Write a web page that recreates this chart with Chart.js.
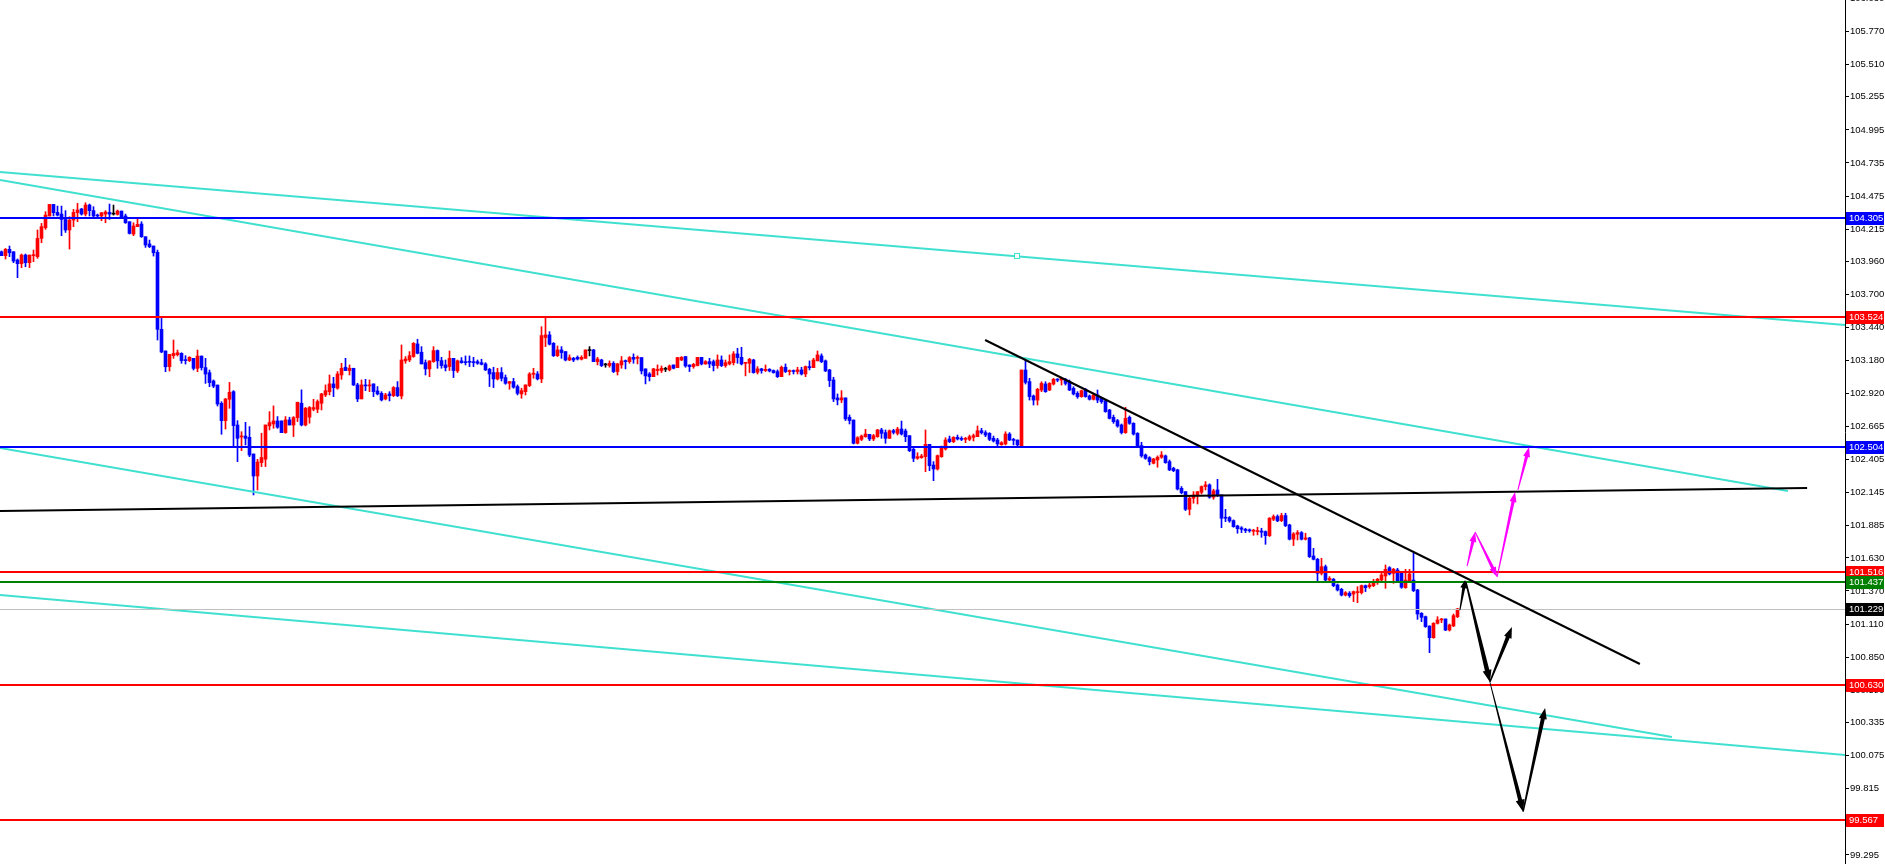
<!DOCTYPE html>
<html><head><meta charset="utf-8">
<script src="https://cdn.jsdelivr.net/npm/chart.js@4.4.1/dist/chart.umd.min.js"></script>
<style>html,body{margin:0;padding:0;background:#fff;overflow:hidden}#wrap{width:1885px;height:864px;position:relative}</style>
</head><body><div id="wrap"><canvas id="c" width="1885" height="864"></canvas></div>
<script>
const opens=[
104.037,104.006,104.056,104.037,103.972,103.943,104.011,103.951,104.006,103.998,
104.142,104.226,104.318,104.409,104.346,104.333,104.291,104.208,104.286,104.344,
104.373,104.333,104.404,104.360,104.325,104.318,104.333,104.346,104.333,104.331,
104.357,104.318,104.273,104.176,104.234,104.255,104.155,104.098,104.082,104.032,
103.427,103.257,103.133,103.220,103.228,103.238,103.186,103.181,103.199,103.120,
103.217,103.126,103.086,103.021,102.989,102.845,102.709,102.877,102.937,102.675,
102.581,102.588,102.578,102.447,102.274,102.379,102.406,102.668,102.683,102.707,
102.707,102.615,102.715,102.675,102.733,102.846,102.675,102.736,102.799,102.799,
102.846,102.911,102.937,102.998,102.964,103.068,103.129,103.103,103.121,102.990,
102.880,102.990,102.982,102.998,102.943,102.924,102.880,102.919,102.906,102.969,
102.903,103.179,103.186,103.213,103.312,103.247,103.165,103.116,103.173,103.260,
103.181,103.147,103.134,103.199,103.100,103.179,103.173,103.173,103.173,103.173,
103.165,103.155,103.113,103.087,103.037,103.087,103.048,103.003,103.016,102.977,
102.919,102.937,102.985,103.074,103.076,103.037,103.362,103.383,103.317,103.220,
103.265,103.252,103.186,103.199,103.207,103.192,103.199,103.260,103.265,103.173,
103.186,103.147,103.142,103.160,103.095,103.147,103.181,103.173,103.207,103.199,
103.205,103.116,103.076,103.055,103.103,103.103,103.113,103.108,103.147,103.126,
103.186,103.213,103.147,103.134,103.142,103.207,103.155,103.173,103.173,103.142,
103.186,103.142,103.155,103.165,103.234,103.207,103.160,103.160,103.186,103.090,
103.116,103.103,103.113,103.103,103.095,103.055,103.129,103.095,103.103,103.095,
103.108,103.076,103.134,103.126,103.179,103.218,103.179,103.108,103.029,102.888,
102.872,102.888,102.736,102.714,102.531,102.562,102.583,102.601,102.565,102.583,
102.636,102.615,102.570,102.630,102.609,102.643,102.628,102.591,102.484,102.413,
102.418,102.426,102.523,102.360,102.329,102.426,102.486,102.565,102.544,102.578,
102.570,102.562,102.562,102.578,102.583,102.630,102.615,102.609,102.570,102.557,
102.520,102.526,102.604,102.557,102.557,102.512,103.107,103.016,102.903,102.871,
102.950,102.997,102.950,102.997,103.031,103.028,103.034,103.015,102.963,102.924,
102.898,102.955,102.903,102.877,102.911,102.885,102.866,102.793,102.735,102.709,
102.675,102.615,102.735,102.688,102.609,102.513,102.439,102.418,102.374,102.400,
102.421,102.432,102.387,102.335,102.322,102.177,102.151,102.012,102.099,102.125,
102.146,102.191,102.204,102.107,102.164,102.125,101.947,101.947,101.923,101.881,
101.866,101.855,101.845,101.840,101.837,101.842,101.837,101.805,101.934,101.955,
101.923,101.963,101.889,101.777,101.816,101.829,101.777,101.787,101.645,101.619,
101.509,101.561,101.456,101.462,101.417,101.383,101.338,101.352,101.346,101.357,
101.357,101.412,101.404,101.412,101.436,101.456,101.488,101.553,101.509,101.535,
101.509,101.396,101.451,101.456,101.378,101.194,101.168,101.095,101.003,101.116,
101.142,101.150,101.063,101.095,101.168];
const highs=[
104.043,104.063,104.082,104.037,103.980,104.019,104.019,104.011,104.050,104.208,
104.260,104.352,104.409,104.409,104.396,104.396,104.360,104.312,104.370,104.417,
104.378,104.422,104.412,104.391,104.333,104.344,104.360,104.412,104.404,104.365,
104.357,104.333,104.273,104.265,104.305,104.273,104.155,104.129,104.082,104.050,
103.513,103.257,103.230,103.343,103.264,103.243,103.220,103.212,103.199,103.264,
103.217,103.199,103.107,103.029,102.989,102.858,102.884,103.010,102.945,102.709,
102.622,102.696,102.662,102.447,102.405,102.610,102.675,102.780,102.825,102.741,
102.707,102.741,102.736,102.741,102.854,102.951,102.814,102.820,102.877,102.872,
102.924,102.990,103.068,103.050,103.095,103.160,103.199,103.147,103.121,103.003,
103.029,103.034,103.029,102.998,102.977,102.937,102.924,102.937,102.977,103.016,
103.304,103.213,103.252,103.323,103.349,103.291,103.186,103.179,103.291,103.265,
103.207,103.186,103.257,103.199,103.186,103.205,103.218,103.218,103.207,103.186,
103.192,103.165,103.121,103.129,103.121,103.126,103.068,103.016,103.042,102.990,
102.964,102.990,103.087,103.121,103.095,103.448,103.527,103.409,103.323,103.296,
103.291,103.252,103.226,103.207,103.218,103.220,103.265,103.291,103.270,103.207,
103.192,103.160,103.179,103.173,103.160,103.213,103.186,103.213,103.234,103.218,
103.205,103.116,103.087,103.121,103.147,103.139,103.129,103.147,103.147,103.207,
103.213,103.213,103.147,103.160,103.207,103.207,103.181,103.199,103.186,103.226,
103.218,103.186,103.226,103.252,103.278,103.286,103.165,103.199,103.192,103.134,
103.121,103.147,103.118,103.108,103.108,103.139,103.155,103.108,103.108,103.129,
103.129,103.139,103.179,103.199,103.257,103.234,103.186,103.113,103.050,102.919,
102.945,102.888,102.754,102.714,102.583,102.596,102.641,102.601,102.601,102.641,
102.649,102.636,102.636,102.641,102.657,102.706,102.643,102.591,102.492,102.457,
102.444,102.636,102.523,102.387,102.439,102.510,102.575,102.588,102.583,102.596,
102.583,102.578,102.596,102.604,102.667,102.649,102.630,102.615,102.588,102.570,
102.544,102.622,102.615,102.570,102.557,103.107,103.186,103.042,102.911,102.963,
103.015,103.015,103.008,103.042,103.039,103.050,103.042,103.029,102.976,102.937,
102.950,102.963,102.911,102.924,102.950,102.893,102.871,102.798,102.753,102.719,
102.683,102.814,102.746,102.693,102.615,102.539,102.447,102.426,102.413,102.432,
102.466,102.439,102.400,102.343,102.327,102.191,102.151,102.112,102.151,102.151,
102.196,102.230,102.212,102.170,102.248,102.125,102.012,101.955,101.929,101.887,
101.876,101.863,101.858,101.855,101.871,101.863,101.842,101.947,101.968,101.968,
101.981,101.981,101.895,101.829,101.845,101.837,101.824,101.792,101.705,101.627,
101.627,101.574,101.483,101.469,101.425,101.391,101.365,101.365,101.370,101.404,
101.417,101.417,101.430,101.462,101.469,101.509,101.574,101.561,101.548,101.548,
101.522,101.540,101.540,101.666,101.383,101.200,101.173,101.095,101.121,101.168,
101.155,101.150,101.110,101.189,101.234];
const lows=[
104.006,103.980,103.998,103.951,103.833,103.912,103.919,103.912,103.959,103.985,
104.108,104.213,104.318,104.318,104.318,104.163,104.189,104.058,104.234,104.273,
104.325,104.318,104.318,104.312,104.312,104.281,104.265,104.291,104.325,104.325,
104.299,104.260,104.176,104.163,104.234,104.150,104.071,104.069,104.003,103.343,
103.243,103.094,103.099,103.199,103.217,103.160,103.154,103.173,103.107,103.094,
103.107,103.002,102.976,102.968,102.824,102.602,102.643,102.806,102.497,102.387,
102.473,102.518,102.426,102.125,102.164,102.348,102.348,102.636,102.649,102.649,
102.615,102.610,102.675,102.584,102.702,102.668,102.668,102.689,102.786,102.772,
102.793,102.898,102.911,102.898,102.956,103.034,103.103,103.068,102.985,102.859,
102.880,102.945,102.937,102.898,102.911,102.864,102.872,102.864,102.898,102.898,
102.880,103.160,103.173,103.207,103.234,103.155,103.068,103.055,103.168,103.121,
103.121,103.100,103.103,103.048,103.087,103.160,103.147,103.134,103.134,103.152,
103.147,103.103,102.977,102.969,103.029,103.021,102.995,102.956,102.964,102.911,
102.885,102.911,102.977,103.042,103.029,103.008,103.291,103.304,103.213,103.213,
103.199,103.179,103.181,103.173,103.186,103.186,103.199,103.218,103.173,103.147,
103.134,103.129,103.129,103.087,103.068,103.121,103.116,103.160,103.160,103.155,
103.076,102.998,103.021,103.055,103.068,103.087,103.095,103.100,103.116,103.126,
103.181,103.129,103.095,103.121,103.139,103.147,103.152,103.126,103.100,103.121,
103.134,103.129,103.147,103.147,103.160,103.147,103.061,103.087,103.082,103.076,
103.082,103.095,103.092,103.082,103.048,103.055,103.087,103.068,103.076,103.076,
103.068,103.055,103.108,103.126,103.179,103.165,103.095,102.977,102.859,102.833,
102.851,102.710,102.683,102.526,102.526,102.552,102.578,102.552,102.552,102.578,
102.570,102.531,102.570,102.604,102.596,102.596,102.544,102.465,102.387,102.405,
102.413,102.308,102.316,102.237,102.321,102.421,102.478,102.536,102.536,102.557,
102.552,102.536,102.552,102.549,102.583,102.604,102.583,102.552,102.541,102.510,
102.515,102.518,102.552,102.518,102.510,102.512,102.997,102.871,102.832,102.832,
102.937,102.932,102.945,102.989,103.015,102.989,102.989,102.945,102.911,102.885,
102.893,102.893,102.871,102.871,102.850,102.845,102.775,102.722,102.688,102.657,
102.604,102.609,102.680,102.596,102.505,102.421,102.405,102.361,102.369,102.343,
102.413,102.374,102.316,102.308,102.164,102.133,102.002,101.968,102.060,102.054,
102.133,102.164,102.099,102.091,102.112,101.868,101.915,101.910,101.871,101.824,
101.829,101.829,101.832,101.808,101.811,101.792,101.737,101.798,101.923,101.915,
101.915,101.876,101.771,101.727,101.771,101.771,101.771,101.633,101.614,101.443,
101.496,101.443,101.443,101.404,101.370,101.331,101.331,101.320,101.286,101.278,
101.346,101.365,101.391,101.404,101.422,101.449,101.391,101.496,101.430,101.443,
101.391,101.391,101.443,101.365,101.147,101.129,101.084,100.885,100.998,101.110,
101.121,101.058,101.055,101.090,101.160];
const closes=[
104.006,104.056,104.029,103.964,103.943,104.011,103.951,104.011,104.011,104.142,
104.234,104.325,104.409,104.344,104.325,104.291,104.208,104.286,104.346,104.365,
104.333,104.404,104.360,104.318,104.318,104.344,104.349,104.333,104.333,104.357,
104.312,104.265,104.181,104.239,104.252,104.155,104.090,104.077,104.029,103.427,
103.249,103.133,103.230,103.238,103.243,103.181,103.181,103.207,103.120,103.217,
103.126,103.076,103.008,102.981,102.840,102.709,102.879,102.932,102.670,102.570,
102.588,102.570,102.439,102.274,102.384,102.419,102.675,102.694,102.707,102.657,
102.615,102.715,102.675,102.733,102.854,102.675,102.806,102.812,102.812,102.859,
102.919,102.945,102.998,102.969,103.076,103.121,103.103,103.121,102.990,102.880,
102.990,102.982,102.990,102.937,102.919,102.872,102.911,102.906,102.969,102.906,
103.186,103.194,103.220,103.317,103.239,103.155,103.116,103.179,103.260,103.179,
103.142,103.126,103.199,103.103,103.179,103.165,103.165,103.168,103.165,103.160,
103.152,103.108,103.076,103.037,103.087,103.042,103.003,103.016,102.972,102.924,
102.945,102.990,103.076,103.082,103.037,103.378,103.383,103.310,103.220,103.265,
103.244,103.186,103.205,103.186,103.194,103.207,103.265,103.260,103.173,103.194,
103.142,103.147,103.160,103.095,103.155,103.179,103.173,103.205,103.192,103.207,
103.100,103.061,103.055,103.116,103.113,103.121,103.113,103.139,103.121,103.205,
103.207,103.139,103.134,103.152,103.207,103.155,103.173,103.155,103.142,103.186,
103.142,103.165,103.173,103.234,103.205,103.155,103.165,103.192,103.087,103.116,
103.103,103.113,103.100,103.087,103.055,103.129,103.095,103.103,103.095,103.108,
103.076,103.134,103.126,103.186,103.226,103.173,103.100,103.024,102.880,102.872,
102.888,102.723,102.710,102.531,102.575,102.588,102.604,102.565,102.591,102.636,
102.609,102.570,102.630,102.617,102.643,102.604,102.583,102.473,102.413,102.426,
102.431,102.523,102.355,102.329,102.434,102.497,102.557,102.544,102.578,102.565,
102.562,102.570,102.583,102.591,102.630,102.615,102.596,102.562,102.549,102.526,
102.536,102.604,102.557,102.554,102.518,103.107,103.010,102.898,102.871,102.955,
103.002,102.937,103.002,103.034,103.028,103.042,103.002,102.950,102.919,102.898,
102.945,102.898,102.877,102.911,102.871,102.858,102.780,102.727,102.701,102.667,
102.615,102.727,102.688,102.604,102.512,102.432,102.413,102.387,102.408,102.421,
102.439,102.379,102.322,102.316,102.172,102.143,102.012,102.099,102.125,102.151,
102.191,102.204,102.107,102.157,102.125,101.942,101.942,101.921,101.876,101.860,
101.855,101.845,101.843,101.845,101.845,101.832,101.805,101.942,101.955,101.921,
101.963,101.884,101.777,101.819,101.829,101.777,101.787,101.640,101.619,101.509,
101.561,101.456,101.469,101.412,101.378,101.338,101.357,101.333,101.365,101.365,
101.412,101.396,101.417,101.443,101.462,101.496,101.540,101.504,101.540,101.451,
101.399,101.456,101.504,101.373,101.189,101.163,101.090,101.003,101.116,101.142,
101.150,101.063,101.103,101.176,101.229];

const tickValues=[105.770,105.510,105.255,104.995,104.735,104.475,104.215,103.960,103.700,103.440,103.180,102.920,102.665,102.405,102.145,101.885,101.630,101.370,101.110,100.850,100.590,100.335,100.075,99.815,99.295];
const cutTopTick=106.030;
const levelPrices=[104.305,103.524,102.504,101.516,101.437,101.229,100.630,99.567];
const levelColors=['#0000ff','#ff0000','#0000ff','#ff0000','#008000','#c0c0c0','#ff0000','#ff0000'];
const labelBoxColors=['#0000ff','#ff0000','#0000ff','#ff0000','#008000','#000000','#ff0000','#ff0000'];
// trend lines: [bar index start, price start, bar index end, price end]
const turquoiseLines=[
 [-0.375,104.664,460.875,103.461],
 [-0.375,104.601,446.6,102.156],
 [-0.375,102.494,417.6,100.222],
 [-0.375,101.338,460.875,100.080]
];
const blackLines=[
 [-0.375,101.999,451.4,102.180],
 [245.9,103.343,409.6,100.796]
];
const markerPoint=[253.9,104.003];
const blackArrows=[
 [364.6,101.220,365.9,101.456],
 [366.1,101.441,372.1,100.654],
 [372.1,100.654,377.6,101.087],
 [372.1,100.654,380.4,99.635],
 [380.4,99.635,385.9,100.450]
];
const magentaArrows=[
 [366.4,101.566,368.4,101.834],
 [368.4,101.834,373.9,101.480],
 [373.9,101.480,378.4,102.148],
 [379.1,102.164,381.9,102.502]
];

const xMin=-0.375, xMax=460.875, yMin=99.2236, yMax=106.0161;
const FAMILY='"Liberation Sans", Arial, sans-serif';
const FONT='9.5px '+FAMILY;

const idx=opens.map((_,i)=>i);
const colorOf=i=>closes[i]>opens[i]?'#ff0000':(closes[i]<opens[i]?'#0000ff':'#000000');
const colors=idx.map(colorOf);
const wickData=idx.map(i=>({x:i,y:[Math.min(lows[i],opens[i],closes[i]),Math.max(highs[i],opens[i],closes[i])]}));
const bodyData=idx.map(i=>({x:i,y:[Math.min(opens[i],closes[i]),Math.max(opens[i],closes[i])]}));

function taperArrow(ctx,x1,y1,x2,y2,w0,w1,hl,hw,color){
  const dx=x2-x1, dy=y2-y1, len=Math.hypot(dx,dy);
  const ux=dx/len, uy=dy/len, nx=-uy, ny=ux;
  const bx=x2-ux*hl, by=y2-uy*hl;
  ctx.beginPath();
  ctx.moveTo(x1+nx*w0/2,y1+ny*w0/2);
  ctx.lineTo(bx+nx*w1/2,by+ny*w1/2);
  ctx.lineTo(bx+nx*hw/2,by+ny*hw/2);
  ctx.lineTo(x2,y2);
  ctx.lineTo(bx-nx*hw/2,by-ny*hw/2);
  ctx.lineTo(bx-nx*w1/2,by-ny*w1/2);
  ctx.lineTo(x1-nx*w0/2,y1-ny*w0/2);
  ctx.closePath();
  ctx.fillStyle=color; ctx.fill();
}

const overlay={
  id:'overlay',
  afterDatasetsDraw(chart){
    const {ctx,chartArea:a,scales:{x,y}}=chart;
    ctx.save();
    ctx.beginPath(); ctx.rect(a.left,a.top,a.right-a.left,a.bottom-a.top); ctx.clip();
    ctx.strokeStyle='#40e0d0'; ctx.lineWidth=2;
    turquoiseLines.forEach(l=>{ctx.beginPath();ctx.moveTo(x.getPixelForValue(l[0]),y.getPixelForValue(l[1]));ctx.lineTo(x.getPixelForValue(l[2]),y.getPixelForValue(l[3]));ctx.stroke();});
    const mx=Math.round(x.getPixelForValue(markerPoint[0])), my=Math.round(y.getPixelForValue(markerPoint[1]));
    ctx.lineWidth=1; ctx.fillStyle='#fff'; ctx.fillRect(mx-2,my-2,4,4); ctx.strokeRect(mx-2.5,my-2.5,5,5);
    levelPrices.forEach((p,k)=>{
      const py=Math.round(y.getPixelForValue(p));
      ctx.strokeStyle=levelColors[k];
      if(levelColors[k]==='#c0c0c0'){ctx.lineWidth=1;ctx.beginPath();ctx.moveTo(a.left,py+0.5);ctx.lineTo(a.right,py+0.5);ctx.stroke();}
      else{ctx.lineWidth=2;ctx.beginPath();ctx.moveTo(a.left,py);ctx.lineTo(a.right,py);ctx.stroke();}
    });
    ctx.strokeStyle='#000'; ctx.lineWidth=2;
    blackLines.forEach(l=>{ctx.beginPath();ctx.moveTo(x.getPixelForValue(l[0]),y.getPixelForValue(l[1]));ctx.lineTo(x.getPixelForValue(l[2]),y.getPixelForValue(l[3]));ctx.stroke();});
    const bStyle=[[1,3,8,7],[1.5,4.5,12,9],[1.5,4,11,8],[0.8,4,12,9],[1.5,4,11,8]];
    blackArrows.forEach((r,k)=>{const s=bStyle[k];taperArrow(ctx,x.getPixelForValue(r[0]),y.getPixelForValue(r[1]),x.getPixelForValue(r[2]),y.getPixelForValue(r[3]),s[0],s[1],s[2],s[3],'#000');});
    magentaArrows.forEach(r=>{taperArrow(ctx,x.getPixelForValue(r[0]),y.getPixelForValue(r[1]),x.getPixelForValue(r[2]),y.getPixelForValue(r[3]),1,3.2,10,7,'#ff00ff');});
    ctx.restore();
  },
  afterDraw(chart){
    const {ctx,chartArea:a,scales:{y}}=chart;
    ctx.save();
    ctx.font=FONT; ctx.textBaseline='middle'; ctx.textAlign='left';
    const ty=y.getPixelForValue(cutTopTick);
    ctx.fillStyle='#000'; ctx.fillText(cutTopTick.toFixed(3),a.right+5,ty);
    ctx.fillRect(a.right,Math.round(ty),4,1);
    levelPrices.forEach((p,k)=>{
      const py=Math.round(y.getPixelForValue(p));
      ctx.fillStyle=labelBoxColors[k];
      ctx.fillRect(a.right+1,py-6,38,13);
      ctx.fillStyle='#fff';
      ctx.fillText(p.toFixed(3),a.right+4,py+0.5);
    });
    ctx.restore();
  }
};

new Chart(document.getElementById('c').getContext('2d'),{
  type:'bar',
  data:{datasets:[
    {data:wickData,backgroundColor:colors,barThickness:1,minBarLength:1,grouped:false,borderWidth:0},
    {data:bodyData,backgroundColor:colors,barThickness:3,minBarLength:1,grouped:false,borderWidth:0}
  ]},
  options:{
    responsive:false,animation:false,events:[],
    layout:{padding:0},
    plugins:{legend:{display:false},tooltip:{enabled:false}},
    scales:{
      x:{type:'linear',min:xMin,max:xMax,display:false,offset:false},
      y:{position:'right',min:yMin,max:yMax,
        afterBuildTicks:s=>{s.ticks=tickValues.map(v=>({value:v}));},
        afterFit:s=>{s.width=40;s.paddingTop=0;s.paddingBottom=0;},
        ticks:{autoSkip:false,color:'#000',padding:1,font:{family:FAMILY,size:9.5},callback:v=>Number(v).toFixed(3)},
        grid:{drawOnChartArea:false,drawTicks:true,tickLength:4,color:'#000'},
        border:{display:true,color:'#000',width:1}
      }
    }
  },
  plugins:[overlay]
});
</script></body></html>
